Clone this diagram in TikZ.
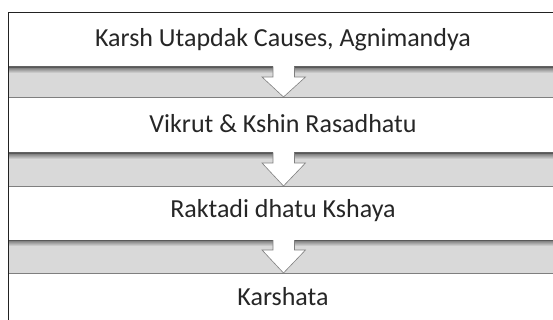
\documentclass[tikz,border=0pt]{standalone}
\usepackage{fontspec}
\setmainfont{Carlito}
\usetikzlibrary{positioning,calc}
\definecolor{bandgray}{HTML}{D9D9D9}
\definecolor{edgegray}{HTML}{7F7F7F}
\definecolor{framegray}{HTML}{222222}
\tikzset{
	%text of each step
	stepbox/.style = {anchor=base, font=\fontsize{26}{30}\selectfont,
                           text=black!85, inner sep=0pt},
	%gray bar between two steps
	band/.style = {fill=bandgray, draw=none},
	bandshadow/.style = {top color=black!55, bottom color=bandgray, draw=none},
	downarrow/.style = {fill=white, draw=edgegray, line width=0.6pt, line join=miter}
}

\begin{document}
\begin{tikzpicture}[x=1pt,y=-1pt]
	\useasboundingbox (0,0) rectangle (553,320);
	%frame
	\fill[white] (9,13) rectangle (553,320);
	%bands
	\foreach \t/\b [count=\i] in {67/97, 153/186, 240/273}{
		\fill[band] (9,\t) rectangle (553,\b);
		\shade[bandshadow] (9,\t) rectangle (273,\t+6);
		\shade[bandshadow] (294,\t) rectangle (553,\t+6);
		\draw[edgegray, line width=0.8pt] (9,\b) -- (553,\b);
		\draw[black!65, line width=0.8pt] (9,\t) -- (273,\t) (294,\t) -- (553,\t);
		\coordinate (tip\i) at (283.5,\b);
		\coordinate (top\i) at (283.5,\t);
	}
	%nodes
	\node[stepbox] (s1) at (283,47) {Karsh Utapdak Causes, Agnimandya};
	\node[stepbox] (s2) at (283,132.7) {Vikrut \& Kshin Rasadhatu};
	\node[stepbox] (s3) at (283,217.7) {Raktadi dhatu Kshaya};
	\node[stepbox] (s4) at (283,305.7) {Karshata};
	%arrows
	\foreach \i in {1,2,3}{
		\draw[downarrow] ($(top\i)+(-10.5,0)$) -- ++(0,10) -- ++(-11,0) -- (tip\i)
			-- ($(top\i)+(22,10)$) -- ++(-11,0) -- ++(0,-10);
	}
	\draw[framegray, line width=1.8pt] (8.5,320) -- (8.5,12.5) -- (553,12.5);
\end{tikzpicture}
\end{document}
